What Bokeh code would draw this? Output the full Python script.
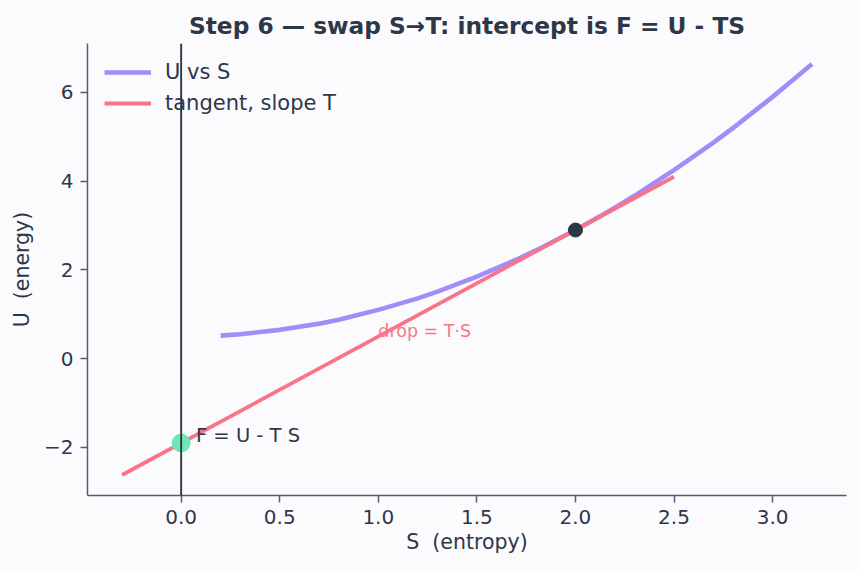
from bokeh.plotting import figure
from bokeh.models import Span, Legend, LegendItem, FixedTicker, PrintfTickFormatter
from bokeh.core.properties import value
from bokeh.embed import file_html
from bokeh.resources import INLINE

# U vs S curve
s_curve = [0.2, 0.3, 0.4, 0.5, 0.6, 0.7, 0.8, 0.9, 1.0, 1.1, 1.2, 1.3, 1.4, 1.5, 1.6,
           1.7, 1.8, 1.9, 2.0, 2.1, 2.2, 2.3, 2.4, 2.5, 2.6, 2.7, 2.8, 2.9, 3.0, 3.1, 3.2]
u_curve = [0.52, 0.55, 0.60, 0.65, 0.72, 0.79, 0.88, 0.99, 1.10, 1.23, 1.36, 1.51, 1.68, 1.85, 2.04,
           2.23, 2.44, 2.67, 2.90, 3.15, 3.40, 3.67, 3.96, 4.25, 4.56, 4.87, 5.20, 5.55, 5.90, 6.27, 6.64]

# tangent line endpoints
s_tan = [-0.3, 2.5]
u_tan = [-2.62, 4.10]

# points
s_touch, u_touch = [2.0], [2.90]
s_icpt, u_icpt = [0.0], [-1.90]

x_ticks = [0.0, 0.5, 1.0, 1.5, 2.0, 2.5, 3.0]
y_ticks = [-2, 0, 2, 4, 6]

FONT = "DejaVu Sans"
TEXT = "#2d3748"
AXIS = "#555b69"
BG = "#fbfbfe"
PURPLE = "#a48cf8"
RED = "#f87589"
GREEN = "#6ee7b7"

p = figure(width=860, height=571, output_backend="svg", toolbar_location=None,
           x_range=(-0.475, 3.375), y_range=(-3.083, 7.103),
           min_border_left=87, min_border_right=14, min_border_top=43, min_border_bottom=76,
           background_fill_color=BG, border_fill_color=BG)
p.outline_line_color = None
p.grid.visible = False

p.title.text = "Step 6 \u2014 swap S\u2192T: intercept is F = U - TS"
p.title.text_font = FONT
p.title.text_font_size = "23.3px"
p.title.text_font_style = "bold"
p.title.text_color = TEXT
p.title.align = "center"

for ax in (p.xaxis[0], p.yaxis[0]):
    ax.axis_line_color = AXIS
    ax.axis_line_width = 1.5
    ax.major_tick_line_color = AXIS
    ax.major_tick_line_width = 1.5
    ax.major_tick_out = 7
    ax.major_tick_in = 0
    ax.minor_tick_line_color = None
    ax.major_label_text_font = FONT
    ax.major_label_text_font_size = "20px"
    ax.major_label_text_color = TEXT
    ax.axis_label_text_font = FONT
    ax.axis_label_text_font_size = "20.5px"
    ax.axis_label_text_font_style = "normal"
    ax.axis_label_text_color = TEXT
    ax.major_label_standoff = 7

p.xaxis.ticker = FixedTicker(ticks=x_ticks)
p.xaxis.formatter = PrintfTickFormatter(format="%.1f")
p.yaxis.ticker = FixedTicker(ticks=y_ticks)
p.yaxis.major_label_overrides = {-2: "\u22122"}
p.xaxis.axis_label = "S\u00a0 (entropy)"
p.yaxis.axis_label = "U\u00a0 (energy)"
p.xaxis.axis_label_standoff = 3
p.yaxis.axis_label_standoff = 7

p.add_layout(Span(location=0, dimension="height", line_color=TEXT, line_width=1.9))

r_curve = p.line(s_curve, u_curve, line_color=PURPLE, line_width=4.6, line_cap="butt", line_join="round")
r_tan = p.line(s_tan, u_tan, line_color=RED, line_width=3.8)

p.scatter(s_touch, u_touch, size=14, color=TEXT)
p.scatter(s_icpt, u_icpt, size=18, color=GREEN)

p.text(x=[1.0], y=[0.62], text=["drop = T\u00b7S"], text_color=RED,
       text_font=value(FONT), text_font_size="17.5px", text_baseline="middle", text_align="left")
p.text(x=[0.075], y=[-1.72], text=["F = U - T S"], text_color=TEXT,
       text_font=value(FONT), text_font_size="19.5px", text_baseline="middle", text_align="left")

legend = Legend(items=[LegendItem(label="U vs S", renderers=[r_curve]),
                       LegendItem(label="tangent, slope T", renderers=[r_tan])],
                location="top_left")
legend.background_fill_alpha = 0
legend.border_line_alpha = 0
legend.margin = 10
legend.padding = 7
legend.glyph_width = 47
legend.glyph_height = 22
legend.label_height = 22
legend.spacing = 7
legend.label_standoff = 14
legend.label_text_font = FONT
legend.label_text_font_size = "21px"
legend.label_text_color = TEXT
p.add_layout(legend)

open("out.html", "w").write(file_html(p, INLINE))
